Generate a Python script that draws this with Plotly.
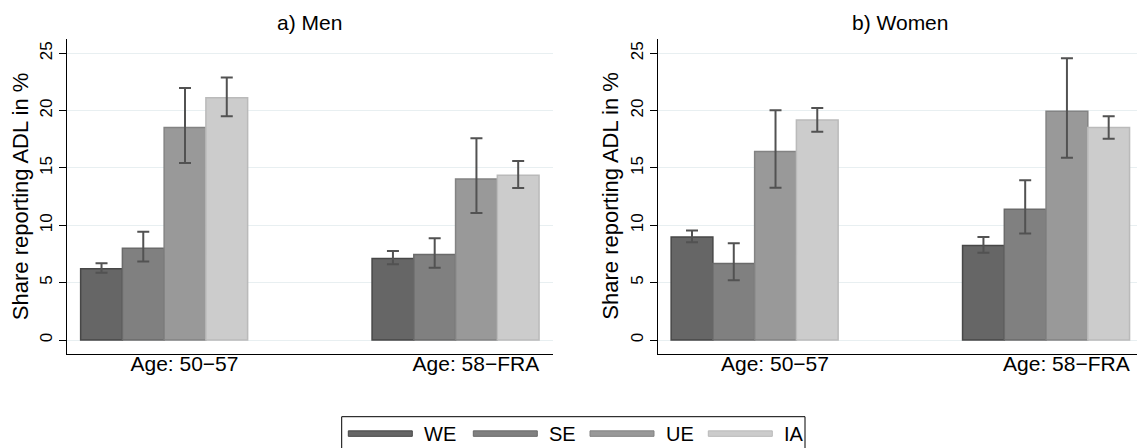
import plotly.graph_objects as go

# ---- data -------------------------------------------------------------
groups = ["Age: 50\u221257", "Age: 58\u2212FRA"]
series = ["WE", "SE", "UE", "IA"]
panel_titles = ["a) Men", "b) Women"]
y_title = "Share reporting ADL in %"
y_ticks = [0, 5, 10, 15, 20, 25]

# rows follow `series`, columns follow `groups`
men_values = [[6.22, 7.11], [8.01, 7.45], [18.53, 14.04], [21.12, 14.36]]
men_ci_low = [[5.86, 6.61], [6.85, 6.29], [15.44, 11.08], [19.51, 13.25]]
men_ci_high = [[6.70, 7.77], [9.43, 8.87], [21.97, 17.60], [22.89, 15.60]]

women_values = [[8.99, 8.24], [6.68, 11.40], [16.43, 19.95], [19.19, 18.53]]
women_ci_low = [[8.53, 7.60], [5.22, 9.28], [13.28, 15.89], [18.16, 17.55]]
women_ci_high = [[9.54, 8.99], [8.44, 13.92], [20.04, 24.56], [20.24, 19.52]]

# ---- style ------------------------------------------------------------
W, H = 1137, 448
FONT = "Liberation Sans, Arial, Helvetica, sans-serif"
fills = ["#666666", "#808080", "#999999", "#cccccc"]
edges = ["#474747", "#6a6a6a", "#838383", "#bababa"]
ci_color = "#525252"
grid_color = "#e8eff1"


def fx(p):
    return p / W


def fy(p):
    return 1 - p / H


# plot-region geometry (pixels)
left_x0, left_x1 = 67.0, 552.7
right_x0 = 657.5
panel_w = left_x1 - left_x0
top_px, bottom_px = 39.3, 354.0
x_lo, x_hi = -1 / 3, 4 / 3
unit_px = panel_w / (x_hi - x_lo)
right_x1_full = right_x0 + panel_w
right_range_hi = x_lo + (x_hi - x_lo) * (W - right_x0) / panel_w
y_range = [-1.22, 26.22]
label_shift = 20.3 / unit_px
group_span = 4 * 41.75 / unit_px

fig = go.Figure()

panels = [
    (men_values, men_ci_low, men_ci_high, "x", "y"),
    (women_values, women_ci_low, women_ci_high, "x2", "y2"),
]
xpos = list(range(len(groups)))
for vals, lows, highs, xa, ya in panels:
    for i, name in enumerate(series):
        v = vals[i]
        fig.add_trace(go.Bar(
            x=xpos, y=v, name=name, xaxis=xa, yaxis=ya, showlegend=False,
            marker=dict(color=fills[i], line=dict(color=edges[i], width=1.5)),
            error_y=dict(
                type="data", symmetric=False,
                array=[h - a for h, a in zip(highs[i], v)],
                arrayminus=[a - l for l, a in zip(lows[i], v)],
                color=ci_color, thickness=2, width=6,
            ),
        ))

xaxis_common = dict(
    tickmode="array",
    tickvals=[p + label_shift for p in xpos],
    ticktext=groups,
    ticks="",
    ticklabelstandoff=-9,
    showgrid=False,
    zeroline=False,
    showline=True,
    linecolor="black",
    linewidth=1,
    tickfont=dict(family=FONT, size=21, color="black"),
)
yaxis_common = dict(
    range=y_range,
    tickmode="array",
    tickvals=y_ticks,
    tickangle=-90,
    ticks="outside",
    ticklen=7,
    tickwidth=1,
    tickcolor="black",
    showline=True,
    linecolor="black",
    linewidth=1,
    showgrid=True,
    gridcolor=grid_color,
    gridwidth=1.3,
    zeroline=False,
    tickfont=dict(family=FONT, size=17, color="black"),
    domain=[fy(bottom_px), fy(top_px)],
)

fig.update_layout(
    width=W, height=H,
    margin=dict(l=0, r=0, t=0, b=0),
    paper_bgcolor="white", plot_bgcolor="white",
    barmode="group", bargap=1 - group_span, bargroupgap=0,
    showlegend=False,
    xaxis=dict(domain=[fx(left_x0), fx(left_x1)], range=[x_lo, x_hi], anchor="y", **xaxis_common),
    xaxis2=dict(domain=[fx(right_x0), 1.0], range=[x_lo, right_range_hi], anchor="y2", **xaxis_common),
    yaxis=dict(anchor="x", **yaxis_common),
    yaxis2=dict(anchor="x2", **yaxis_common),
)

annotations = []
shapes = []

# panel titles
for title, cx in zip(panel_titles, [(left_x0 + left_x1) / 2, (right_x0 + right_x1_full) / 2]):
    annotations.append(dict(
        text=title, xref="paper", yref="paper", x=fx(cx), y=fy(22.5),
        xanchor="center", yanchor="middle", showarrow=False,
        font=dict(family=FONT, size=21, color="black"),
    ))

# y-axis titles
for ax_px in [left_x0, right_x0]:
    annotations.append(dict(
        text=y_title, xref="paper", yref="paper",
        x=fx(ax_px - 46.5), y=fy((top_px + bottom_px) / 2),
        xanchor="center", yanchor="middle", textangle=-90, showarrow=False,
        font=dict(family=FONT, size=22, color="black"),
    ))

# legend box with bar-coloured keys
box_x0, box_x1, box_top = 341.7, 805.0, 416.7
shapes.append(dict(
    type="rect", xref="paper", yref="paper",
    x0=fx(box_x0), x1=fx(box_x1), y0=fy(box_top), y1=fy(H + 20),
    line=dict(color="black", width=1), fillcolor="white", layer="below",
))
key_starts = [348.3, 473.3, 590.0, 708.3]
key_len, key_h, key_cy, text_gap = 64.0, 5.5, 433.6, 74.0
for i, name in enumerate(series):
    sx = key_starts[i]
    shapes.append(dict(
        type="rect", xref="paper", yref="paper",
        x0=fx(sx), x1=fx(sx + key_len),
        y0=fy(key_cy - key_h / 2), y1=fy(key_cy + key_h / 2),
        fillcolor=fills[i], line=dict(color=edges[i], width=1),
    ))
    annotations.append(dict(
        text=name, xref="paper", yref="paper", x=fx(sx + text_gap), y=fy(key_cy),
        xanchor="left", yanchor="middle", showarrow=False,
        font=dict(family=FONT, size=20, color="black"),
    ))

fig.update_layout(annotations=annotations, shapes=shapes)

fig.write_html("out.html")
